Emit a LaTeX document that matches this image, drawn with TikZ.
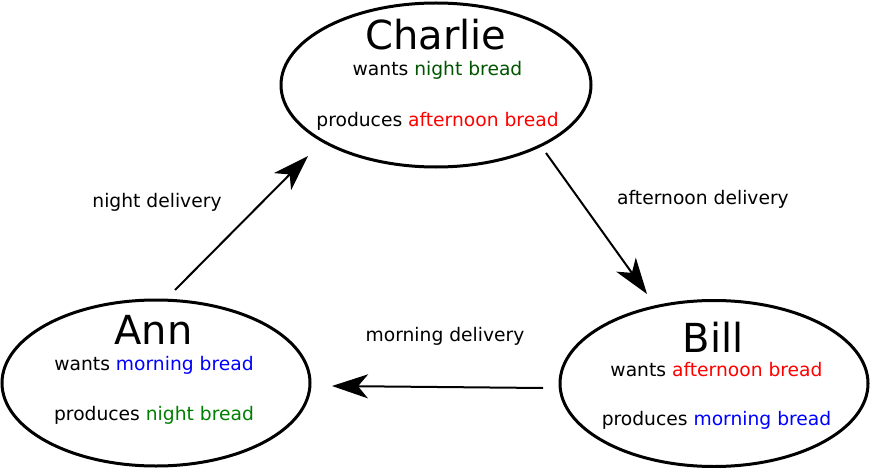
\documentclass[tikz,border=0pt]{standalone}
\usepackage{fontspec}
\setmainfont{DejaVu Sans}
\usetikzlibrary{arrows.meta,shapes.geometric}
\definecolor{darkgr}{RGB}{0,85,0}
\definecolor{midgr}{RGB}{0,128,0}
\definecolor{pblue}{RGB}{0,0,255}
\definecolor{pred}{RGB}{255,0,0}
\tikzset{
  person/.style={draw=black, line width=3pt, ellipse, inner sep=0pt},
  namefont/.style={anchor=base, inner sep=0pt, font=\fontsize{40}{44}\selectfont},
  bodyfont/.style={anchor=base, inner sep=0pt, font=\fontsize{18.7}{22}\selectfont},
  flow/.style={draw=black, line width=2pt, -{Stealth[length=36pt,width=24pt,inset=10pt]}},
}
\begin{document}
\begin{tikzpicture}[x=1pt,y=-1pt]
\useasboundingbox[fill=white] (0,0) rectangle (870,468);
% ellipses
\node[person, minimum width=310pt, minimum height=164pt] (charlie) at (436,85) {};
\node[person, minimum width=308pt, minimum height=166pt] (ann) at (156,383) {};
\node[person, minimum width=308pt, minimum height=166pt] (bill) at (714,383.5) {};
% Charlie text
\node[namefont] (cname) at (436,50) {Charlie};
\node[bodyfont] (cwant) at (437.5,76) {wants \textcolor{darkgr}{night bread}};
\node[bodyfont] (cprod) at (437.5,127) {produces \textcolor{pred}{afternoon bread}};
% Ann text
\node[namefont] (aname) at (153.5,344) {Ann};
\node[bodyfont] (awant) at (154,370) {wants \textcolor{pblue}{morning bread}};
\node[bodyfont] (aprod) at (154,420) {produces \textcolor{midgr}{night bread}};
% Bill text
\node[namefont] (bname) at (713,352) {Bill};
\node[bodyfont] (bwant) at (716.5,376) {wants \textcolor{pred}{afternoon bread}};
\node[bodyfont] (bprod) at (716.5,425) {produces \textcolor{pblue}{morning bread}};
% labels
\node[bodyfont] (lnight) at (157,207) {night delivery};
\node[bodyfont] (lafter) at (703,204) {afternoon delivery};
\node[bodyfont] (lmorn) at (445,341) {morning delivery};
% arrow ends
\coordinate (a1) at (175,290);
\coordinate (c1) at (308,156);
\coordinate (c2) at (546,153);
\coordinate (b1) at (647,294);
\coordinate (b2) at (543,388);
\coordinate (a2) at (332,386);
\draw[flow] (a1) -- (c1);
\draw[flow] (c2) -- (b1);
\draw[flow] (b2) -- (a2);
\end{tikzpicture}
\end{document}
